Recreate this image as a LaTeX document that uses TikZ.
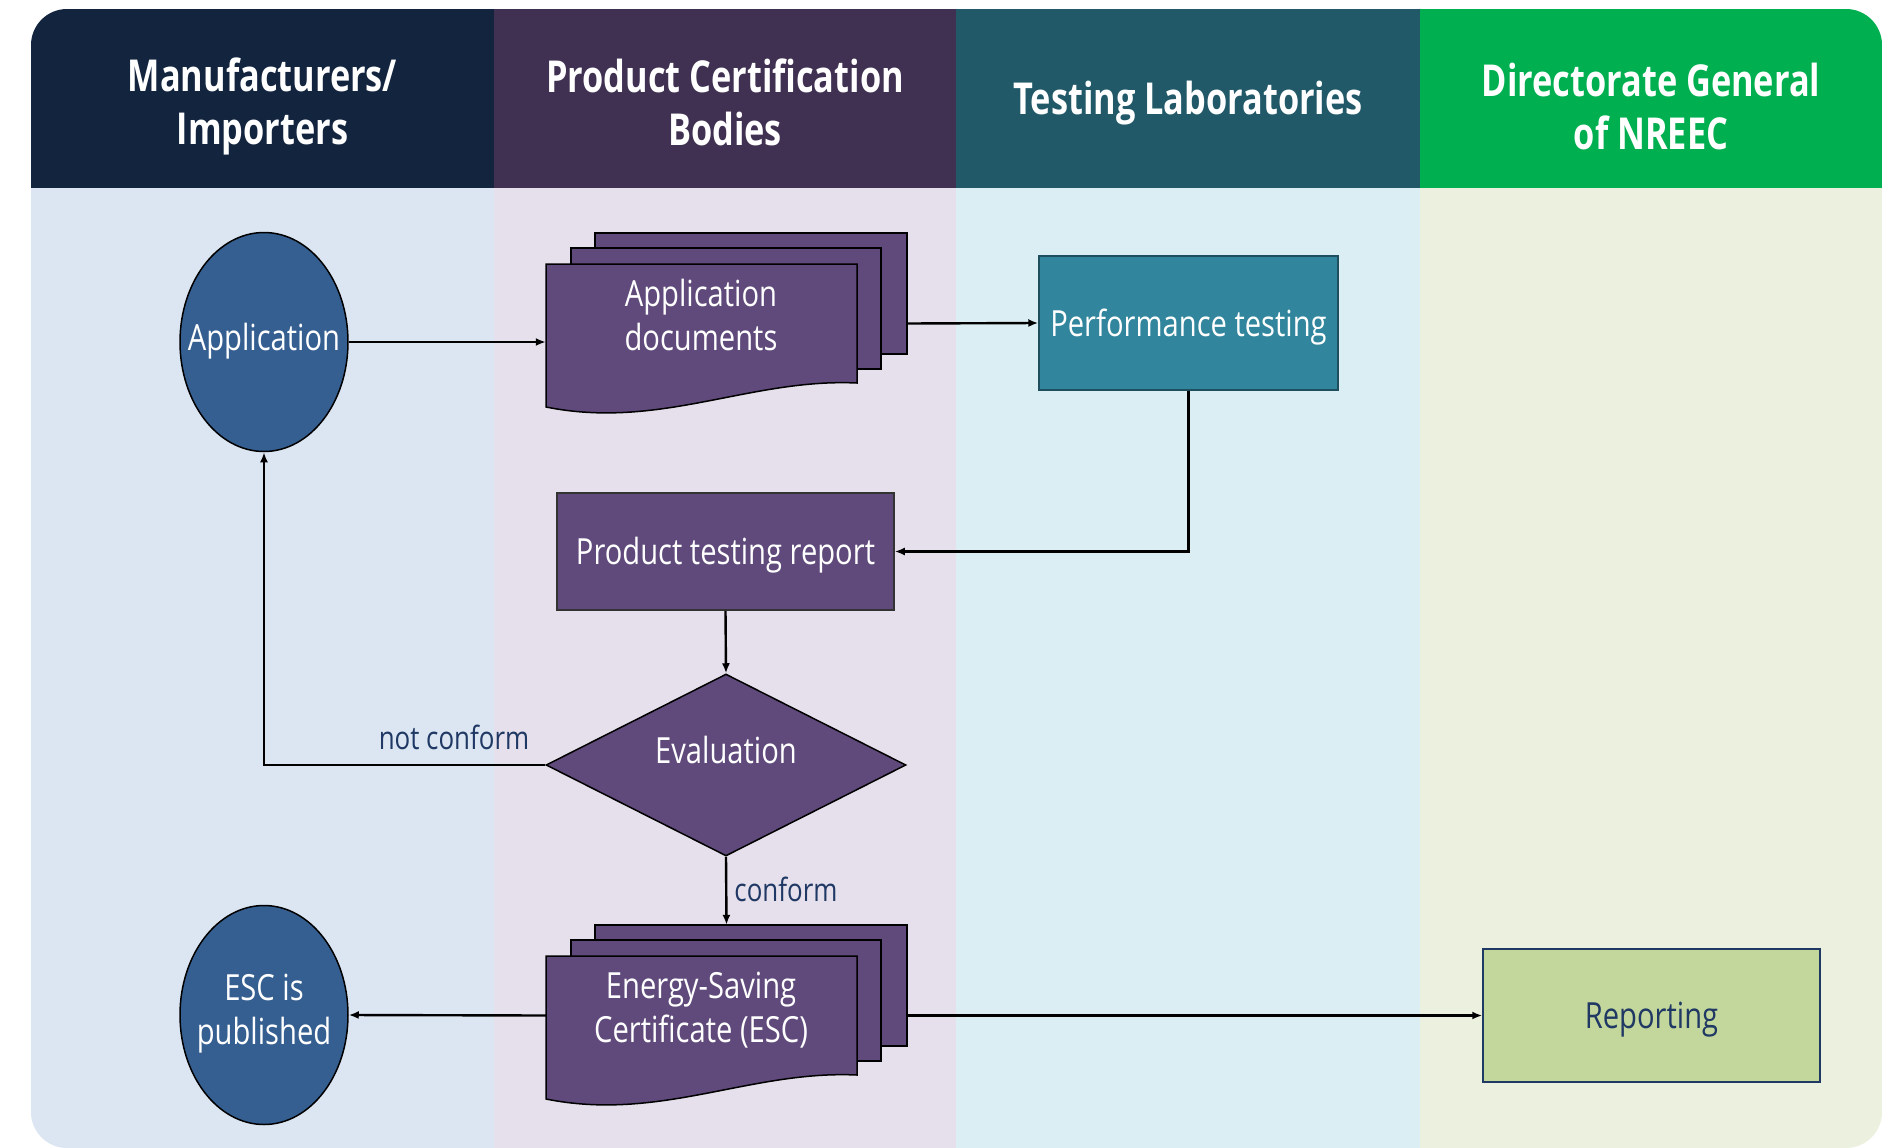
\documentclass[tikz,border=0pt]{standalone}
\usepackage{fontspec}
\setmainfont{Open Sans}
\newfontfamily\hdrfont[FakeStretch=0.78]{Open Sans}
\newfontfamily\bodyfont[FakeStretch=0.81]{Open Sans}
\usetikzlibrary{shapes.geometric,arrows.meta}
\definecolor{hA}{HTML}{13243F}
\definecolor{hB}{HTML}{403152}
\definecolor{hC}{HTML}{215968}
\definecolor{hD}{HTML}{00B050}
\definecolor{bA}{HTML}{DCE6F2}
\definecolor{bB}{HTML}{E6E0EC}
\definecolor{bC}{HTML}{DBEEF4}
\definecolor{bD}{HTML}{EBF1DE}
\definecolor{ellblue}{HTML}{355F91}
\definecolor{purp}{HTML}{604A7B}
\definecolor{tealbox}{HTML}{31859C}
\definecolor{tealedge}{HTML}{1F4E5F}
\definecolor{greenbox}{HTML}{C3D69B}
\definecolor{navy}{HTML}{1F3864}
\newcommand\mydocstack[1]{%
  \begin{scope}[yshift=#1]
    \draw[docedge] (595,233) rectangle (907,354);
    \draw[docedge] (571,248) rectangle (881,369);
    \draw[docedge] (546,264) -- (857,264) -- (857,383)
      .. controls (750,378) and (660,430) .. (546,407) -- cycle;
  \end{scope}}
\begin{document}
\begin{tikzpicture}[x=1pt,y=-1pt,
  hdr/.style={text=white,align=center,font=\hdrfont\bfseries\fontsize{44}{53}\selectfont},
  bodytxt/.style={font=\bodyfont\fontsize{36}{44}\selectfont,align=center},
  docedge/.style={fill=purp,draw=black,line width=1.5pt},
  ellnode/.style={ellipse,fill=ellblue,draw=black,line width=1.5pt,minimum width=168pt,minimum height=219pt,inner sep=0pt},
  conn/.style={line width=2.4pt,-{Latex[length=10pt,width=8pt]}},
  lbl/.style={font=\bodyfont\fontsize{32}{40}\selectfont,text=navy}]
\useasboundingbox (0,0) rectangle (1882,1148);
\fill[white] (0,0) rectangle (1882,1148);
\begin{scope}
  \clip[rounded corners=36pt] (31,9) rectangle (1882,1148);
  \fill[bA] (31,188) rectangle (494,1148);
  \fill[bB] (494,188) rectangle (956,1148);
  \fill[bC] (956,188) rectangle (1420,1148);
  \fill[bD] (1420,188) rectangle (1882,1148);
  \fill[hA] (31,9) rectangle (494,188);
  \fill[hB] (494,9) rectangle (956,188);
  \fill[hC] (956,9) rectangle (1420,188);
  \fill[hD] (1420,9) rectangle (1882,188);
\end{scope}
\node[hdr] (h1) at (262.5,106) {Manufacturers/\\Importers};
\node[hdr] (h2) at (725,102) {Product Certification\\Bodies};
\node[hdr] (h3) at (1188,103) {Testing Laboratories};
\node[hdr] (h4) at (1651,106) {Directorate General\\of NREEC};

\mydocstack{0pt}
\mydocstack{-692pt}
\node[draw=none,minimum width=361pt,minimum height=181pt,inner sep=0pt] (docA) at (726.5,323.5) {};
\node[draw=none,minimum width=361pt,minimum height=181pt,inner sep=0pt] (docB) at (726.5,1015.5) {};
\node[bodytxt,text=white] (docAtxt) at (701,315) {Application\\documents};
\node[bodytxt,text=white] (docBtxt) at (701,1010) {Energy-Saving\\Certificate (ESC)};

\node[ellnode] (app) at (264,342) {};
\node[bodytxt,text=white] (apptxt) at (264,341) {Application};
\node[ellnode] (esc) at (264,1015) {};
\node[bodytxt,text=white] (esctxt) at (264,1014) {ESC is\\published};
\node[rectangle,fill=tealbox,draw=tealedge,line width=1.5pt,minimum width=299pt,minimum height=134pt,inner sep=0pt] (perf) at (1188.5,323) {};
\node[bodytxt,text=white] (perftxt) at (1188.5,327) {Performance testing};
\node[rectangle,fill=purp,draw=black!80,line width=1.5pt,minimum width=337pt,minimum height=117pt,inner sep=0pt] (rep) at (725.5,551.5) {};
\node[bodytxt,text=white] (reptxt) at (725.5,555) {Product testing report};
\node[diamond,fill=purp,draw=black,line width=1.5pt,minimum width=360pt,minimum height=182pt,inner sep=0pt] (eval) at (726,765) {};
\node[bodytxt,text=white] (evaltxt) at (726,750) {Evaluation};
\node[rectangle,fill=greenbox,draw=navy,line width=1.5pt,minimum width=337pt,minimum height=133pt,inner sep=0pt] (report) at (1651.5,1015.5) {};
\node[bodytxt,text=navy] (reporttxt) at (1651.5,1020) {Reporting};

\node[lbl] (nc) at (454,737) {not conform};
\node[lbl] (cf) at (786,889) {conform};

\draw[conn] (app.east) -- (app.east -| docA.west);
\draw[conn] (docA.east) -- (perf.west);
\draw[conn] (perf.south) |- (rep.east);
\draw[conn] (rep.south) -- (eval.north);
\draw[conn] (eval.west) -| (app.south);
\draw[conn] (eval.south) -- (docB.north);
\draw[conn] (docB.west) -- (esc.east);
\draw[conn] (docB.east) -- (report.west);
\end{tikzpicture}
\end{document}
